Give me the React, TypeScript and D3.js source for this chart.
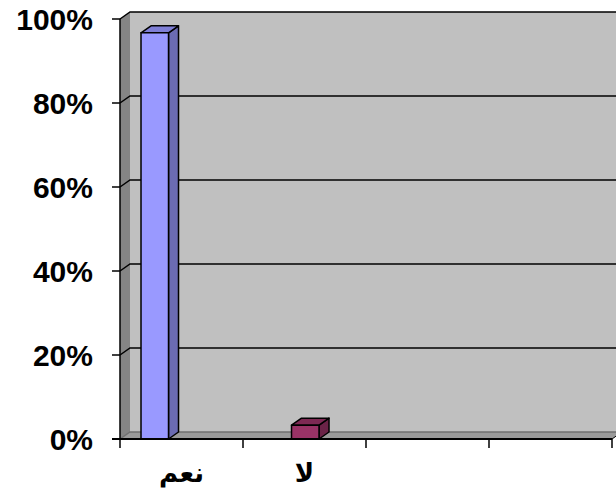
import * as d3 from "d3";

// categories along the x axis (the chart continues in empty slots to the right)
const categories = ["نعم", "لا", "", ""];
const seriesNames = ["نعم", "لا"];
const yesValues = [96.7, 0, 0, 0];
const noValues = [0, 3.3, 0, 0];
const yTicks = [0, 20, 40, 60, 80, 100];

const W = 616;
const H = 495;
const DX = 10;
const DY = -7;

const seriesStyle = [
  { front: "#9999FF", top: "#7F7FD6", side: "#6B6BB3" },
  { front: "#993366", top: "#7D2953", side: "#6B2347" },
];

export default function App() {
  const x = d3.scaleBand<string>().domain(categories.map((_, i) => String(i))).range([120, 612]).padding(0);
  const inner = d3
    .scaleBand<string>()
    .domain(seriesNames)
    .range([0, x.bandwidth()])
    .paddingInner(0)
    .paddingOuter(1.236)
    .align(0.309);
  const y = d3.scaleLinear().domain([0, 100]).range([439, 19]);

  const x0 = 120;
  const xEnd = 612;
  const y0 = y(0);

  const bars: { x: number; w: number; top: number; s: number }[] = [];
  [yesValues, noValues].forEach((vals, s) => {
    vals.forEach((v, i) => {
      if (!v) return;
      bars.push({ x: x(String(i))! + inner(seriesNames[s])!, w: inner.bandwidth(), top: y(v), s });
    });
  });

  const pts = (arr: number[][]) => arr.map((p) => p.join(",")).join(" ");
  const boundaries = d3.range(categories.length + 1).map((i) => x0 + i * x.step());

  return (
    <svg width={W} height={H} style={{ position: "absolute", left: 0, top: 0, background: "#fff" }}>
      {/* back wall */}
      <rect x={x0 + DX} y={y(100) + DY} width={W} height={y0 - y(100)} fill="#C0C0C0" />
      {/* left wall */}
      <polygon
        points={pts([[x0, y(100)], [x0 + DX, y(100) + DY], [x0 + DX, y0 + DY], [x0, y0]])}
        fill="#858585"
      />
      {/* floor */}
      <polygon
        points={pts([[x0, y0], [x0 + DX, y0 + DY], [xEnd + DX, y0 + DY], [xEnd, y0]])}
        fill="#9A9A9A"
      />
      {/* gridlines */}
      {yTicks.map((t) => (
        <polyline
          key={t}
          points={pts([[x0, y(t)], [x0 + DX, y(t) + DY], [W + 20, y(t) + DY]])}
          fill="none"
          stroke={t === 0 ? "#707070" : "#000"}
          strokeWidth={1.5}
        />
      ))}
      {/* bars */}
      {bars.map((b, i) => {
        const st = seriesStyle[b.s];
        return (
          <g key={i} stroke="#000" strokeWidth={1.5} strokeLinejoin="round">
            <polygon
              points={pts([[b.x + b.w, b.top], [b.x + b.w + DX, b.top + DY], [b.x + b.w + DX, y0 + DY], [b.x + b.w, y0]])}
              fill={st.side}
            />
            <polygon
              points={pts([[b.x, b.top], [b.x + DX, b.top + DY], [b.x + b.w + DX, b.top + DY], [b.x + b.w, b.top]])}
              fill={st.top}
            />
            <rect x={b.x} y={b.top} width={b.w} height={y0 - b.top} fill={st.front} />
          </g>
        );
      })}
      {/* axes */}
      <line x1={x0} x2={x0} y1={y(100)} y2={y0} stroke="#000" strokeWidth={1.5} />
      <line x1={x0 - 8} x2={xEnd} y1={y0} y2={y0} stroke="#000" strokeWidth={2} />
      <line x1={xEnd} x2={xEnd + DX} y1={y0} y2={y0 + DY} stroke="#000" strokeWidth={1} />
      {yTicks.map((t) => (
        <line key={t} x1={x0 - 8} x2={x0} y1={y(t)} y2={y(t)} stroke="#000" strokeWidth={1.5} />
      ))}
      {boundaries.map((bx, i) => (
        <line key={i} x1={bx} x2={bx} y1={y0} y2={y0 + 9} stroke="#000" strokeWidth={1.5} />
      ))}
      {yTicks.map((t) => (
        <text
          key={t}
          x={93}
          y={y(t)}
          textAnchor="end"
          dominantBaseline="central"
          fontFamily="'Liberation Sans', Arial, sans-serif"
          fontWeight="bold"
          fontSize={30}
        >
          {t}%
        </text>
      ))}
      {categories.map((c, i) => (
        <text
          key={i}
          x={x(String(i))! + x.bandwidth() / 2}
          y={482}
          textAnchor="middle"
          fontFamily="'DejaVu Sans', sans-serif"
          fontWeight="bold"
          fontSize={26}
          direction="rtl"
        >
          {c}
        </text>
      ))}
    </svg>
  );
}
